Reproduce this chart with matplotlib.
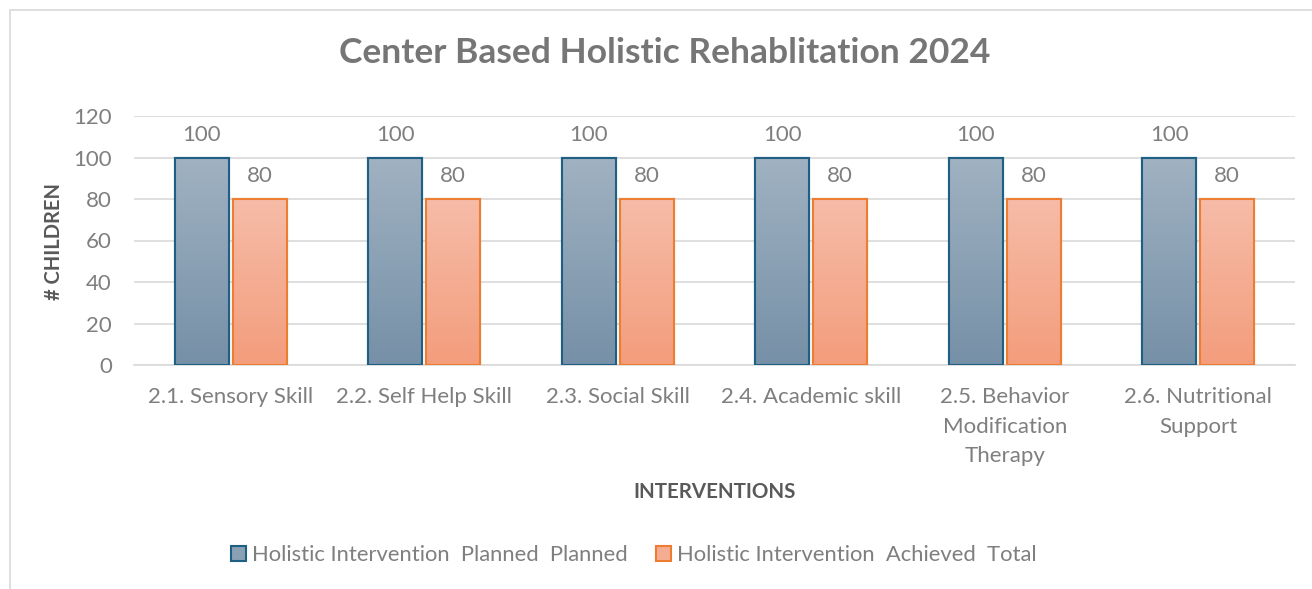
import matplotlib
matplotlib.use("Agg")
import matplotlib.pyplot as plt
import numpy as np
from matplotlib.patches import Rectangle
from matplotlib.colors import LinearSegmentedColormap

categories = ["2.1. Sensory Skill", "2.2. Self Help Skill", "2.3. Social Skill",
              "2.4. Academic skill", "2.5. Behavior\nModification\nTherapy",
              "2.6. Nutritional\nSupport"]
planned = [100, 100, 100, 100, 100, 100]
achieved = [80, 80, 80, 80, 80, 80]
series_names = ["Holistic Intervention  Planned  Planned",
                "Holistic Intervention  Achieved  Total"]
yticks = [0, 20, 40, 60, 80, 100, 120]

FONT = ["Lato", "DejaVu Sans"]
plt.rcParams['font.family'] = FONT

fig = plt.figure(figsize=(13.12, 5.89), dpi=100)
ax = fig.add_axes([134/1312, 1-365/589, (1295-134)/1312, (365-116)/589])

# chart frame
fig.patches.append(Rectangle((10/1312, -0.2), 1.2, 1.2-10/589, transform=fig.transFigure,
                             fill=False, edgecolor="#d9d9d9", linewidth=1.2))

x = np.arange(len(categories))
w = 0.28
gap = 0.02
blue_edge = "#1f5f84"
orange_edge = "#ed7d31"
blue_cmap = LinearSegmentedColormap.from_list("b", ["#7690a7", "#a0b2c2"])
orange_cmap = LinearSegmentedColormap.from_list("o", ["#f39d7c", "#f6bca8"])

b1 = ax.bar(x - w/2 - gap/2, planned, w, facecolor="#8aa1b5", edgecolor=blue_edge, linewidth=1.5, zorder=3)
b2 = ax.bar(x + w/2 + gap/2, achieved, w, facecolor="#f4ad92", edgecolor=orange_edge, linewidth=1.5, zorder=3)

grad = np.linspace(0, 1, 256).reshape(-1, 1)
for bars, cmap in ((b1, blue_cmap), (b2, orange_cmap)):
    for r in bars:
        x0, y0 = r.get_x(), r.get_y()
        im = ax.imshow(grad, cmap=cmap, origin="lower", aspect="auto",
                       extent=(x0, x0 + r.get_width(), y0, y0 + r.get_height()), zorder=3.5)
        im.set_clip_path(r)
        edge = Rectangle((x0, y0), r.get_width(), r.get_height(), fill=False,
                         edgecolor=r.get_edgecolor(), linewidth=1.5, zorder=4)
        ax.add_patch(edge)

FS = 16
for r, v in zip(b1, planned):
    ax.text(r.get_x() + r.get_width()/2, v + 6.2, f"{v}", ha="center", va="bottom",
            fontsize=FS, color="#7f7f7f")
for r, v in zip(b2, achieved):
    ax.text(r.get_x() + r.get_width()/2, v + 6.2, f"{v}", ha="center", va="bottom",
            fontsize=FS, color="#7f7f7f")

ax.set_xlim(-0.5, len(categories) - 0.5)
ax.set_ylim(0, 120)
ax.set_yticks(yticks)
ax.set_yticklabels([str(t) for t in yticks], fontsize=FS, color="#7f7f7f")
ax.set_xticks(x)
ax.set_xticklabels(categories, fontsize=FS, color="#7f7f7f", linespacing=1.6)
ax.tick_params(axis="x", length=0, pad=16)
ax.tick_params(axis="y", length=0, pad=16)
ax.grid(axis="y", color="#d9d9d9", linewidth=1.2, zorder=0)
ax.set_axisbelow(True)
for s in ["top", "right", "left"]:
    ax.spines[s].set_visible(False)
ax.spines["bottom"].set_color("#d9d9d9")
ax.spines["bottom"].set_linewidth(1.2)

fig.text(54/1312, 1-241/589, "# CHILDREN", ha="center", va="center", rotation=90,
         fontsize=14.5, fontweight="bold", color="#595959")
fig.text(715/1312, 1-492/589, "INTERVENTIONS", ha="center", va="center",
         fontsize=14.8, fontweight="bold", color="#595959")
fig.text(665/1312, 1-53/589, "Center Based Holistic Rehablitation 2024", ha="center", va="center",
         fontsize=25.5, fontweight="bold", color="#767676")

handles = [Rectangle((0, 0), 1, 1, facecolor="#8aa1b5", edgecolor=blue_edge, linewidth=1.5),
           Rectangle((0, 0), 1, 1, facecolor="#f4ad92", edgecolor=orange_edge, linewidth=1.5)]
leg = fig.legend(handles, series_names, loc="center", bbox_to_anchor=(634/1312, 1-555/589),
                 ncol=2, frameon=False, fontsize=15.8, handlelength=0.65, handleheight=0.65,
                 handletextpad=0.3, columnspacing=1.3)
for t in leg.get_texts():
    t.set_color("#7f7f7f")

fig.savefig("out.png", dpi=100, facecolor="white")
